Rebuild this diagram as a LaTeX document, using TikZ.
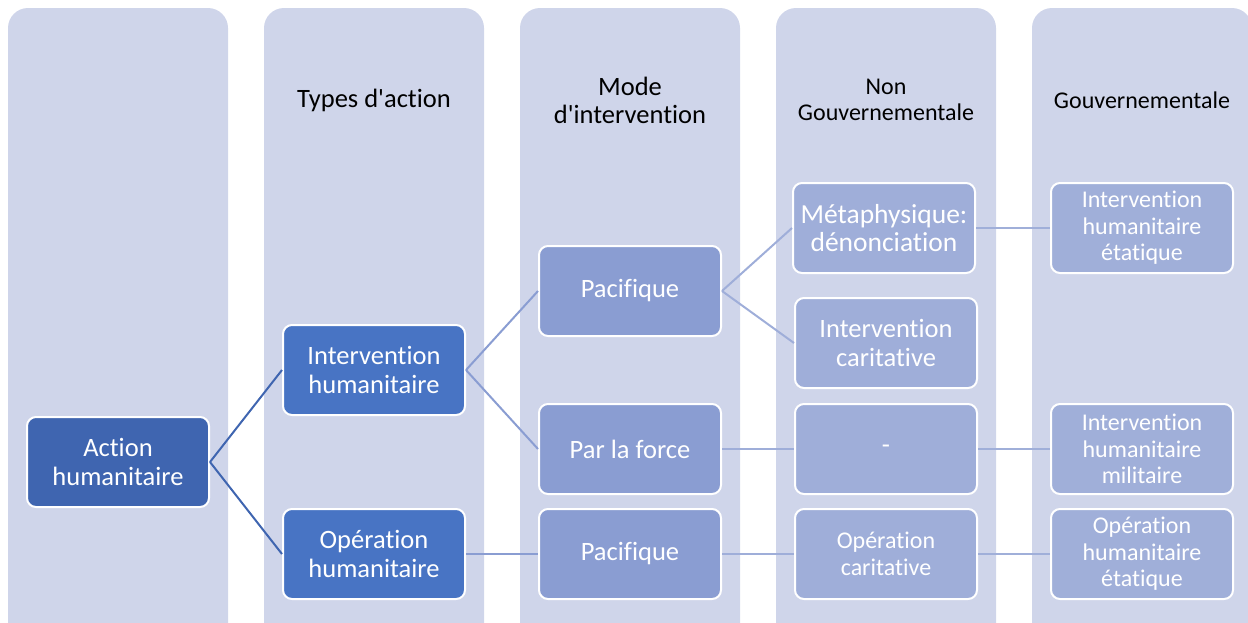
\documentclass[tikz,border=0pt]{standalone}
\usepackage{fontspec}
\setmainfont{Carlito}[Ligatures=NoCommon]
\usepackage{xcolor}
\usepackage{tikz}
\usetikzlibrary{positioning}
\definecolor{colbg}{HTML}{CFD5EA}
\definecolor{lvlone}{HTML}{3F65B0}
\definecolor{lvltwo}{HTML}{4874C4}
\definecolor{lvlthree}{HTML}{8A9DD2}
\definecolor{lvlfour}{HTML}{9FAED9}
\definecolor{lvlfive}{HTML}{A0AFD9}

\begin{document}
\begin{tikzpicture}[x=1pt, y=-1pt,
      col/.style={fill=colbg, rounded corners=20pt},
      hdr/.style={align=center, text=black, font=\fontsize{26.5}{28}\selectfont},
      box/.style={draw=white, line width=2pt, rounded corners=9pt, align=center,
        minimum width=182pt, minimum height=90pt, inner sep=1pt, text=white,
        font=\fontsize{26.5}{28.5}\selectfont},
      small/.style={font=\fontsize{24}{26.5}\selectfont},
      lone/.style={box, fill=lvlone},
      ltwo/.style={box, fill=lvltwo},
      lthree/.style={box, fill=lvlthree},
      lfour/.style={box, fill=lvlfour},
      lfive/.style={box, fill=lvlfive, small},
      link/.style={line width=2pt},
      node distance=72pt
    ]
    \useasboundingbox (0,0) rectangle (1248,622);
    \clip (0,0) rectangle (1248,622);

    % columns
    \fill[col] (8,8) rectangle (228,650);
    \fill[col] (264,8) rectangle (484,650);
    \fill[col] (520,8) rectangle (740,650);
    \fill[col] (776,8) rectangle (996,650);
    \fill[col] (1032,8) rectangle (1252,650);

    \node[hdr] (hdr-types) at (374,100) {Types d\textquotesingle action};
    \node[hdr] (hdr-mode) at (630,100) {Mode\\d\textquotesingle intervention};
    \node[hdr, font=\fontsize{24}{26}\selectfont] (hdr-ng) at (886,100) {Non\\Gouvernementale};
    \node[hdr, font=\fontsize{24}{26}\selectfont] (hdr-gov) at (1142,100) {Gouvernementale};

    % hierarchy
    \node[lone] (act) at (118,462) {Action\\humanitaire};
    \node[ltwo] (int-hum) at (374,370) {Intervention\\humanitaire};
    \node[ltwo] (op-hum) at (374,554) {Opération\\humanitaire};

    \node[lthree] (pac-top) at (630,291) {Pacifique};
    \node[lthree] (force) at (630,449) {Par la force};
    \node[lthree, right=of op-hum] (pac-bot) {Pacifique};

    \node[lfour, font=\fontsize{27.5}{28.5}\selectfont] (meta) at (884,228) {Métaphysique:\\dénonciation};
    \node[lfour] (int-car) at (886,343) {Intervention\\caritative};
    \node[lfour, right=of force] (dash-ng) {-};
    \node[lfour, small, right=of pac-bot] (op-car) {Opération\\caritative};

    \node[lfive] (int-etat) at (1142,228) {Intervention\\humanitaire\\étatique};
    \node[lfive, right=of dash-ng] (int-mil) {Intervention\\humanitaire\\militaire};
    \node[lfive, right=of op-car] (op-etat) {Opération\\humanitaire\\étatique};

    \draw[link, draw=lvlone] (act.east) -- (int-hum.west);
    \draw[link, draw=lvlone] (act.east) -- (op-hum.west);
    \draw[link, draw=lvlthree] (int-hum.east) -- (pac-top.west);
    \draw[link, draw=lvlthree] (int-hum.east) -- (force.west);
    \draw[link, draw=lvlthree] (op-hum.east) -- (pac-bot.west);
    \draw[link, draw=lvlfour] (pac-top.east) -- (meta.west);
    \draw[link, draw=lvlfour] (pac-top.east) -- (int-car.west);
    \draw[link, draw=lvlfour] (force.east) -- (dash-ng.west);
    \draw[link, draw=lvlfour] (pac-bot.east) -- (op-car.west);
    \draw[link, draw=lvlfive] (meta.east) -- (int-etat.west);
    \draw[link, draw=lvlfive] (dash-ng.east) -- (int-mil.west);
    \draw[link, draw=lvlfive] (op-car.east) -- (op-etat.west);
  \end{tikzpicture}
\end{document}
